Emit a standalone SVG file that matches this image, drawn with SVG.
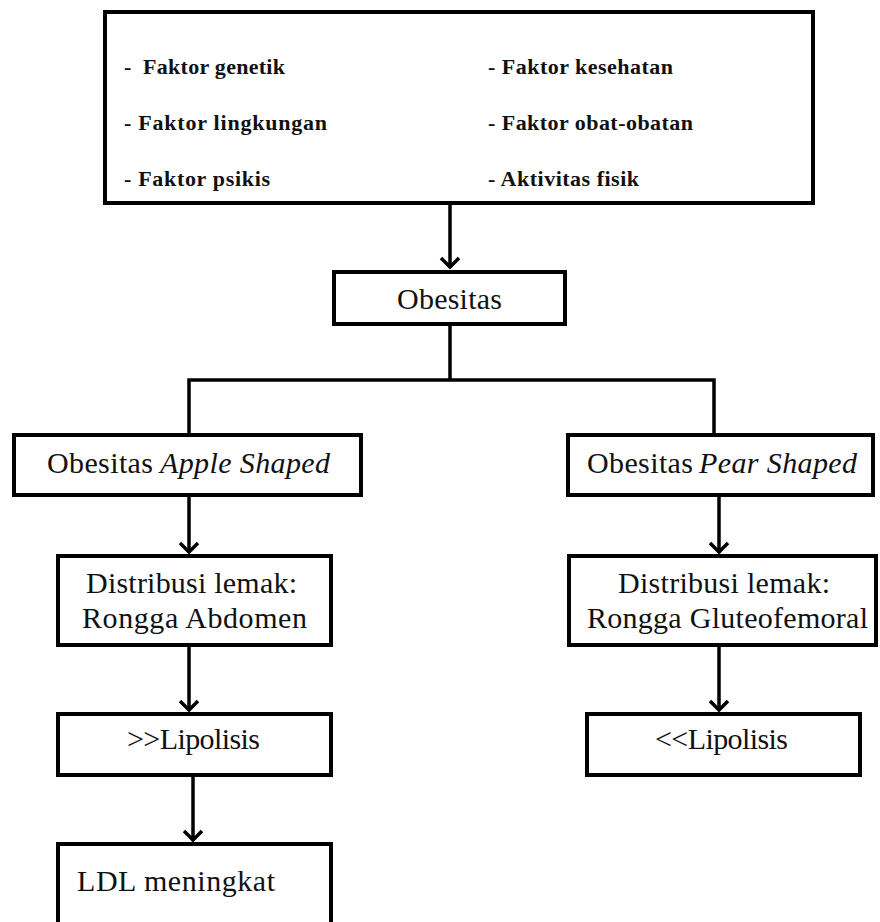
<svg xmlns="http://www.w3.org/2000/svg" width="880" height="922" viewBox="0 0 880 922">
<defs>
<marker id="arr" markerUnits="userSpaceOnUse" markerWidth="22" markerHeight="22" viewBox="0 0 22 22" refX="12" refY="11" orient="auto">
<path d="M2,2 L11,11 L2,20" fill="none" stroke="#000" stroke-width="3.5"/>
</marker>
<style>
.box{fill:#fff;stroke:#000;stroke-width:4}
.ln{fill:none;stroke:#000;stroke-width:3.5}
.b{font-family:"Liberation Serif","Times New Roman",serif;font-weight:bold;font-size:22px;fill:#111}
.t{font-family:"Liberation Serif","Times New Roman",serif;font-size:30px;fill:#111}
.i{font-style:italic}
</style>
</defs>
<rect width="880" height="922" fill="#fff"/>
<g id="connectors">
<line class="ln" x1="450" y1="204" x2="450" y2="268" marker-end="url(#arr)"/>
<polyline class="ln" points="450,326 450,380"/>
<polyline class="ln" points="189,433 189,380 714,380 714,433"/>
<line class="ln" x1="189" y1="497" x2="189" y2="553" marker-end="url(#arr)"/>
<line class="ln" x1="719" y1="497" x2="719" y2="553" marker-end="url(#arr)"/>
<line class="ln" x1="189" y1="647" x2="189" y2="711" marker-end="url(#arr)"/>
<line class="ln" x1="719" y1="647" x2="719" y2="711" marker-end="url(#arr)"/>
<line class="ln" x1="193" y1="777" x2="193" y2="841" marker-end="url(#arr)"/>
</g>
<g id="faktor">
<rect class="box" x="105" y="12" width="708" height="191"/>
<text class="b" x="124" y="74">-</text>
<text class="b" x="143" y="74" textLength="142" lengthAdjust="spacing">Faktor genetik</text>
<text class="b" x="124" y="130" textLength="203" lengthAdjust="spacing">- Faktor lingkungan</text>
<text class="b" x="124" y="186" textLength="146" lengthAdjust="spacing">- Faktor psikis</text>
<text class="b" x="488" y="74" textLength="185" lengthAdjust="spacing">- Faktor kesehatan</text>
<text class="b" x="488" y="130" textLength="205" lengthAdjust="spacing">- Faktor obat-obatan</text>
<text class="b" x="488" y="186" textLength="151" lengthAdjust="spacing">- Aktivitas fisik</text>
</g>
<g id="obesitas">
<rect class="box" x="334" y="272" width="231" height="52"/>
<text class="t" x="397" y="309" textLength="105" lengthAdjust="spacing">Obesitas</text>
</g>
<g id="apple">
<rect class="box" x="14" y="435" width="347" height="60"/>
<text class="t" x="47" y="473" textLength="106" lengthAdjust="spacing">Obesitas</text>
<text class="t i" x="160" y="473" textLength="170" lengthAdjust="spacing">Apple Shaped</text>
</g>
<g id="pear">
<rect class="box" x="568" y="435" width="305" height="60"/>
<text class="t" x="587" y="473" textLength="106" lengthAdjust="spacing">Obesitas</text>
<text class="t i" x="699" y="473" textLength="158" lengthAdjust="spacing">Pear Shaped</text>
</g>
<g id="distribusi-abdomen">
<rect class="box" x="58" y="556" width="273" height="89"/>
<text class="t" x="86" y="593" textLength="211" lengthAdjust="spacing">Distribusi lemak:</text>
<text class="t" x="82" y="628" textLength="225" lengthAdjust="spacing">Rongga Abdomen</text>
</g>
<g id="distribusi-gluteofemoral">
<rect class="box" x="569" y="556" width="307" height="89"/>
<text class="t" x="618" y="593" textLength="212" lengthAdjust="spacing">Distribusi lemak:</text>
<text class="t" x="587" y="628" textLength="281" lengthAdjust="spacing">Rongga Gluteofemoral</text>
</g>
<g id="lipolisis-naik">
<rect class="box" x="58" y="714" width="273" height="61"/>
<text class="t" x="127" y="749" textLength="133" lengthAdjust="spacing">&gt;&gt;Lipolisis</text>
</g>
<g id="lipolisis-turun">
<rect class="box" x="587" y="714" width="273" height="61"/>
<text class="t" x="655" y="749" textLength="133" lengthAdjust="spacing">&lt;&lt;Lipolisis</text>
</g>
<g id="ldl">
<rect class="box" x="58" y="844" width="273" height="90"/>
<text class="t" x="77" y="891" textLength="198" lengthAdjust="spacing">LDL meningkat</text>
</g>
</svg>
